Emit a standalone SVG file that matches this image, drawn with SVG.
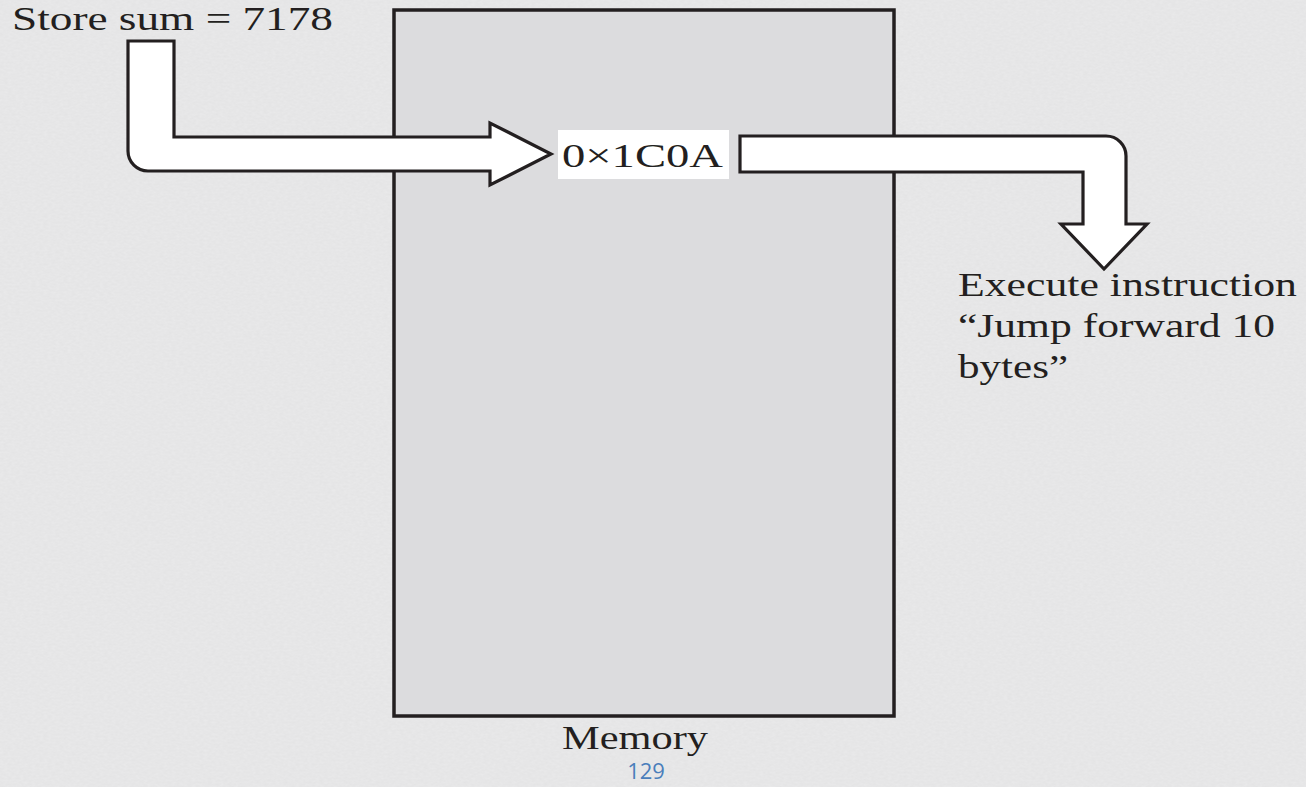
<svg xmlns="http://www.w3.org/2000/svg" width="1306" height="787" viewBox="0 0 1306 787">
<style>
.t{font-family:"Liberation Serif","Times New Roman",serif;fill:#231f20;font-size:33px}
.arrow{fill:#ffffff;stroke:#231f20;stroke-width:3.2;stroke-linejoin:miter}
</style>
<defs>
<filter id="tex" x="0" y="0" width="100%" height="100%">
<feTurbulence type="fractalNoise" baseFrequency="0.25 0.5" numOctaves="2" seed="3" result="n"/>
<feColorMatrix in="n" type="matrix" values="0 0 0 0 0.5  0 0 0 0 0.5  0 0 0 0 0.5  0 0 0 0.16 0"/>
</filter>
</defs>
<rect x="0" y="0" width="1306" height="787" fill="#eaeaeb"/>
<rect x="0" y="0" width="1306" height="787" filter="url(#tex)"/>
<g id="memory">
<rect x="394" y="10" width="500" height="706" fill="#dcdcde" stroke="#231f20" stroke-width="3.5"/>
<text class="t" x="562" y="749" textLength="146" lengthAdjust="spacingAndGlyphs">Memory</text>
</g>
<g id="connectors">
<path class="arrow" d="M128,41 L174,41 L174,137 L490,137 L490,123 L551,154 L490,185 L490,171 L148,171 A20,20 0 0 1 128,151 Z"/>
<path class="arrow" d="M740,136 L1106,136 A20,20 0 0 1 1126,156 L1126,224 L1147,224 L1104,269 L1061,224 L1083,224 L1083,172 L740,172 Z"/>
</g>
<g id="address">
<rect x="558" y="130" width="171" height="49" fill="#ffffff"/>
<text class="t" x="562" y="167" textLength="161" lengthAdjust="spacingAndGlyphs">0×1C0A</text>
</g>
<g id="store">
<text class="t" x="12" y="30" textLength="321" lengthAdjust="spacingAndGlyphs">Store sum = 7178</text>
</g>
<g id="execute">
<text class="t" x="958" y="296" textLength="339" lengthAdjust="spacingAndGlyphs">Execute instruction</text>
<text class="t" x="958" y="337" textLength="317" lengthAdjust="spacingAndGlyphs">“Jump forward 10</text>
<text class="t" x="958" y="378" textLength="110" lengthAdjust="spacingAndGlyphs">bytes”</text>
</g>
<g id="page">
<text x="646" y="779" font-size="22" text-anchor="middle" fill="#4a7ebb" font-family="'Open Sans','Liberation Sans',sans-serif">129</text>
</g>
</svg>
